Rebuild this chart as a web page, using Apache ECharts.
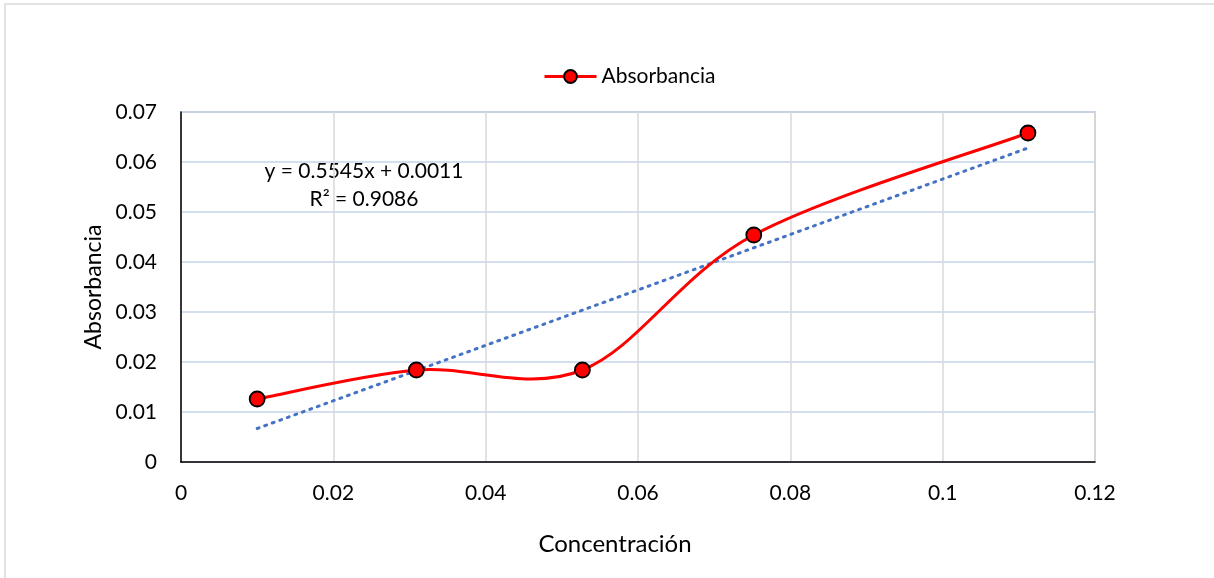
<!DOCTYPE html>
<html>
<head>
<meta charset="utf-8">
<script src="https://cdn.jsdelivr.net/npm/echarts@6/dist/echarts.min.js"></script>
<style>html,body{margin:0;padding:0;background:#fff}#c{width:1214px;height:578px}</style>
</head>
<body>
<div id="c"></div>
<script>
var concentracion = [0.0100, 0.0309, 0.0527, 0.0752, 0.1112];
var absorbancia = [0.0126, 0.0184, 0.0184, 0.0454, 0.0658];
var trendX = [0.0100, 0.1112];
var trendY = [0.0067, 0.0628];
var xTicks = [0, 0.02, 0.04, 0.06, 0.08, 0.1, 0.12];
var yTicks = [0, 0.01, 0.02, 0.03, 0.04, 0.05, 0.06, 0.07];
var eqText = 'y = 0.5545x + 0.0011';
var r2Text = 'R² = 0.9086';

var FONT = 'Lato';
var pts = concentracion.map(function(x,i){return [x, absorbancia[i]];});

function smoothPath(api) {
  var p = pts.map(function(d){ return api.coord(d); });
  var n = p.length;
  var path = 'M' + p[0][0] + ' ' + p[0][1];
  for (var i = 0; i < n - 1; i++) {
    var p0 = p[Math.max(i - 1, 0)], p1 = p[i], p2 = p[i + 1], p3 = p[Math.min(i + 2, n - 1)];
    var c1x = p1[0] + (p2[0] - p0[0]) / 6, c1y = p1[1] + (p2[1] - p0[1]) / 6;
    var c2x = p2[0] - (p3[0] - p1[0]) / 6, c2y = p2[1] - (p3[1] - p1[1]) / 6;
    path += ' C' + c1x + ' ' + c1y + ' ' + c2x + ' ' + c2y + ' ' + p2[0] + ' ' + p2[1];
  }
  return path;
}

var chart = echarts.init(document.getElementById('c'));
chart.setOption({
  animation: false,
  textStyle: {fontFamily: FONT},
  grid: {left: 181, right: 119, top: 112, bottom: 116, show: true, borderColor: '#bfbfbf', borderWidth: 1.5},
  legend: {
    data: [{name: 'Absorbancia', lineStyle: {opacity: 1, color: '#ff0000', width: 3}}],
    left: 538, top: 61, itemWidth: 52, itemHeight: 16, itemGap: 6,
    textStyle: {fontFamily: FONT, fontSize: 21, color: '#000'}
  },
  xAxis: {
    type: 'value', min: 0, max: 0.12, interval: 0.02,
    name: 'Concentración', nameLocation: 'middle', nameGap: 70,
    nameTextStyle: {fontFamily: FONT, fontSize: 24, color: '#000', padding: [0, 46, 0, 0]},
    axisLine: {onZero: false, lineStyle: {color: '#000', width: 1.5}},
    axisTick: {show: false},
    axisLabel: {fontSize: 21, color: '#000', margin: 21, formatter: function(v){ return String(+v.toFixed(2)); }},
    splitLine: {show: true, lineStyle: {color: '#d9d9d9', width: 1.5}}
  },
  yAxis: {
    type: 'value', min: 0, max: 0.07, interval: 0.01,
    name: 'Absorbancia', nameLocation: 'middle', nameGap: 76,
    nameTextStyle: {fontFamily: FONT, fontSize: 23, color: '#000'},
    axisLine: {show: true, onZero: false, lineStyle: {color: '#000', width: 1.5}},
    axisTick: {show: false},
    axisLabel: {fontSize: 21, color: '#000', margin: 24, formatter: function(v){ return String(+v.toFixed(2)); }},
    splitLine: {show: true, lineStyle: {color: '#c5d3ea', width: 1.5}}
  },
  series: [
    {
      name: 'Trend', type: 'line', data: trendX.map(function(x,i){return [x, trendY[i]];}),
      symbol: 'none', lineStyle: {color: '#4472c4', width: 3, type: [2, 6], cap: 'round'}, z: 2, silent: true
    },
    {
      name: 'Curve', type: 'custom', data: [[0, 0]], z: 3, silent: true,
      renderItem: function(params, api) {
        return {type: 'path', shape: {pathData: smoothPath(api)},
          style: {fill: 'none', stroke: '#ff0000', lineWidth: 3}};
      }
    },
    {
      name: 'Absorbancia', type: 'line', data: pts,
      symbol: 'circle', symbolSize: 15,
      lineStyle: {color: '#ff0000', width: 3, opacity: 0},
      itemStyle: {color: '#ff0000', borderColor: '#000', borderWidth: 1.8},
      z: 4
    }
  ],
  graphic: [
    {type: 'rect', shape: {x: 5, y: 4, width: 1220, height: 590}, style: {fill: 'none', stroke: '#d9d9d9', lineWidth: 1.5}, silent: true},
    {type: 'text', x: 364, y: 171, style: {text: eqText, fill: '#000', font: '21px Lato', align: 'center', verticalAlign: 'middle'}},
    {type: 'text', x: 364, y: 199, style: {text: r2Text, fill: '#000', font: '21px Lato', align: 'center', verticalAlign: 'middle'}}
  ]
});
</script>
</body>
</html>
